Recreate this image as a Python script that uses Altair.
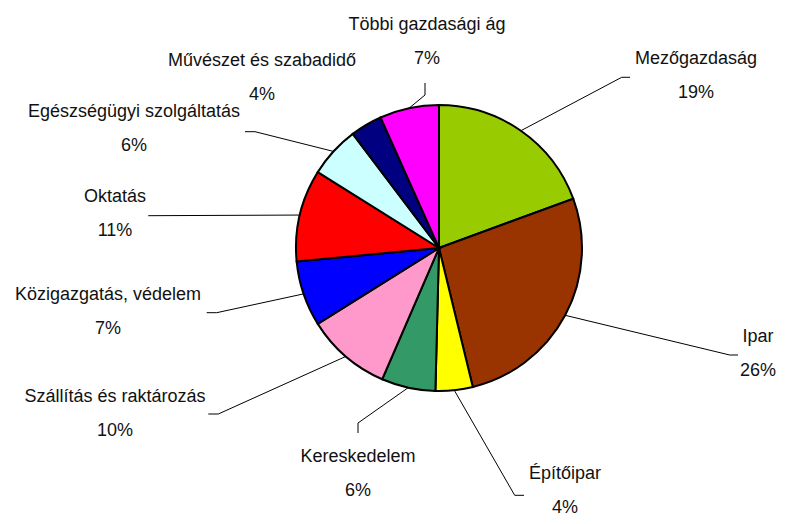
import math
import altair as alt
import pandas as pd

# ---- data ----
categories = ["Mezőgazdaság", "Ipar", "Építőipar", "Kereskedelem",
              "Szállítás és raktározás", "Közigazgatás, védelem", "Oktatás",
              "Egészségügyi szolgáltatás", "Művészet és szabadidő",
              "Többi gazdasági ág"]
shares = [19.4, 26.8, 4.2, 6.1, 9.6, 7.4, 10.4, 5.8, 3.6, 6.7]
pct_labels = ["19%", "26%", "4%", "6%", "10%", "7%", "11%", "6%", "4%", "7%"]
colors = ["#99CC00", "#993300", "#FFFF00", "#339966", "#FF99CC",
          "#0000FF", "#FF0000", "#CCFFFF", "#000080", "#FF00FF"]

# ---- layout (chart pixel coordinates) ----
W, H = 769, 508
CX, CY, R = 431, 240, 143
label_x = [688, 750, 557, 350, 107, 100, 107, 126, 254, 419]
name_base = [56.3, 333.7, 470.5, 454, 393.7, 292, 193.7, 109.3, 57.7, 22]
LINE_GAP = 34
# leader line: elbow then end point (None = no leader line)
elbows = [((613.7, 69.3), (622, 69.3)),
          ((721.7, 347), (730, 347)),
          ((506.7, 487.3), (516, 487.3)),
          ((350, 415), (350, 425)),
          ((210.3, 406), (200.3, 406)),
          ((208.7, 304.7), (198.7, 304.7)),
          ((140.3, 207.7), (140.3, 207.7)),
          ((247, 123.7), (237, 123.7)),
          None,
          ((417, 87), (417, 75))]

pie_df = pd.DataFrame({"cat": categories, "share": shares,
                       "idx": list(range(len(categories)))})

lines = []
cum = 0.0
total = sum(shares)
for i, (c, s) in enumerate(zip(categories, shares)):
    mid = (cum + s / 2) / total * 2 * math.pi
    cum += s
    if elbows[i] is None:
        continue
    sx = CX + R * math.sin(mid)
    sy = CY - R * math.cos(mid)
    pts = [(sx, sy), elbows[i][0], elbows[i][1]]
    for k, (px, py) in enumerate(pts):
        lines.append({"cat": c, "seq": k, "px": px, "py": py})
line_df = pd.DataFrame(lines)

lab_df = pd.DataFrame({"cat": categories, "pct": pct_labels,
                       "lx": label_x, "ny": name_base,
                       "py": [b + LINE_GAP for b in name_base]})

xs = alt.Scale(domain=[0, W], range=[0, W])
ys = alt.Scale(domain=[0, H], range=[0, H])

pie = alt.Chart(pie_df).mark_arc(outerRadius=R, stroke="black",
                                 strokeWidth=2).encode(
    theta=alt.Theta("share:Q", stack=True),
    order=alt.Order("idx:Q"),
    color=alt.Color("cat:N", scale=alt.Scale(domain=categories, range=colors),
                    legend=None),
    x=alt.value(CX), y=alt.value(CY),
)

leaders = alt.Chart(line_df).mark_line(color="black", strokeWidth=1).encode(
    x=alt.X("px:Q", scale=xs, axis=None),
    y=alt.Y("py:Q", scale=ys, axis=None),
    detail="cat:N",
    order="seq:Q",
)

font = "Liberation Sans"
names = alt.Chart(lab_df).mark_text(font=font, fontSize=18, color="#111111",
                                    align="center", baseline="alphabetic").encode(
    x=alt.X("lx:Q", scale=xs, axis=None),
    y=alt.Y("ny:Q", scale=ys, axis=None),
    text="cat:N",
)
pcts = alt.Chart(lab_df).mark_text(font=font, fontSize=18, color="#111111",
                                   align="center", baseline="alphabetic").encode(
    x=alt.X("lx:Q", scale=xs, axis=None),
    y=alt.Y("py:Q", scale=ys, axis=None),
    text="pct:N",
)

chart = alt.layer(pie, leaders, names, pcts).properties(
    width=W, height=H, padding=0,
    autosize=alt.AutoSizeParams(type="none"),
    background="white",
).configure_view(stroke=None)

chart.save("out.html", embed_options={"renderer": "svg", "actions": False})
